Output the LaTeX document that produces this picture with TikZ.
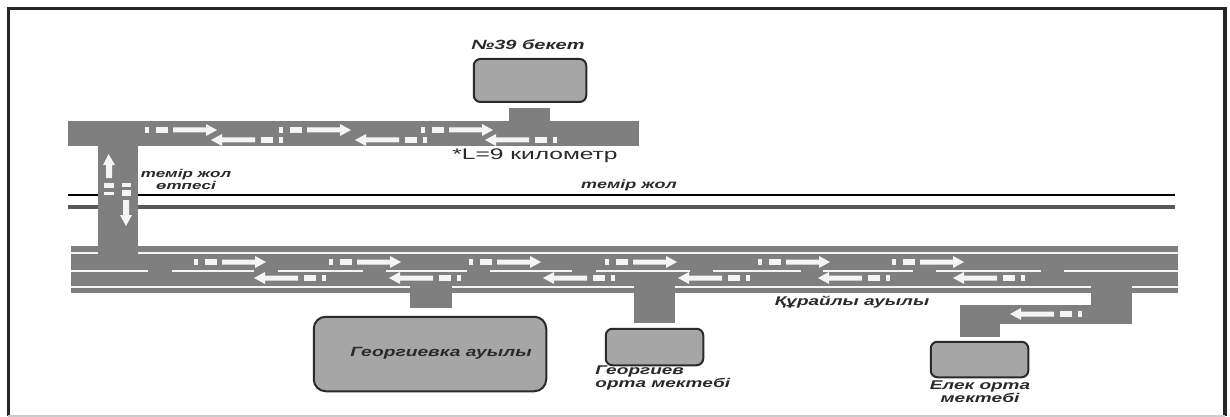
\documentclass[tikz,border=0pt]{standalone}
\usepackage{fontspec}
\setmainfont{Liberation Sans}
\definecolor{roadgray}{HTML}{7F7F7F}
\definecolor{boxgray}{HTML}{A6A6A6}
\definecolor{inkdark}{HTML}{2A2A2A}
\definecolor{markwhite}{HTML}{F4F4F4}
\tikzset{
  road/.style={fill=roadgray,draw=none},
  laneline/.style={draw=markwhite,line width=1.5},
  place/.style={draw=inkdark,line width=1.5,fill=boxgray,rounded corners=5,minimum width=#1*0.75,inner sep=0pt},
  lab/.style={text=inkdark,font=\bfseries\itshape\fontsize{#1}{9.5}\selectfont,transform shape,align=center,inner sep=0pt},
  paint/.style={fill=markwhite,draw=none}
}
% right-going marking: #1 = x of the first dot, #2 = y centre
\newcommand{\markR}[2]{%
  \fill[paint] (#1,#2-3) rectangle ++(4,6);
  \fill[paint] (#1+11,#2-3) rectangle ++(12,6);
  \fill[paint] (#1+28,#2-2.5) -- ++(33,0) -- ++(0,-3.5) -- (#1+72,#2) -- (#1+61,#2+6) -- ++(0,-3.5) -- (#1+28,#2+2.5) -- cycle;}
% left-going marking: #1 = x of the tip, #2 = y centre
\newcommand{\markL}[2]{%
  \fill[paint] (#1+68,#2-3) rectangle ++(4,6);
  \fill[paint] (#1+50,#2-3) rectangle ++(12,6);
  \fill[paint] (#1+44,#2-2.5) -- ++(-33,0) -- ++(0,-3.5) -- (#1,#2) -- (#1+11,#2+6) -- ++(0,-3.5) -- (#1+44,#2+2.5) -- cycle;}
\begin{document}
\begin{tikzpicture}[x=0.75pt,y=-0.75pt]
\useasboundingbox (0,0) rectangle (1230,417);
\fill[white] (0,0) rectangle (1230,417);
% frame
\draw[draw=black!85,line width=2.4] (8.5,416) -- (8.5,8.5) -- (1225,8.5) -- (1225,416);
\draw[draw=black!20,line width=0.8] (8,416) -- (1225,416);
% railway
\draw[black,line width=1.7] (68,195) -- (1175,195);
\draw[black!65,line width=2.6] (68,207) -- (1175,207);
% roads
\fill[road] (68,121) rectangle (639,146);
\fill[road] (509,108) rectangle (550,121);
\fill[road] (97.5,146) rectangle (138,250);
\fill[road] (71,246) rectangle (1178,293);
\fill[road] (410,285) rectangle (452,308);
\fill[road] (634,285) rectangle (675,323);
\fill[road] (1091,285) rectangle (1132,324);
\fill[road] (960,305) rectangle (1132,324);
\fill[road] (960,305) rectangle (1000,337);
% lane lines of the main road
\draw[laneline] (71,253) -- (97.5,253);
\draw[laneline] (138,253) -- (1178,253);
\foreach \a/\b in {71/148,172/254,278/363,386/467,490/572,596/690,713/801,823/913,936/1041,1064/1178}
  \draw[laneline] (\a,271) -- (\b,271);
\foreach \a/\b in {71/410,452/634,675/1091,1132/1178}
  \draw[laneline,line width=1.8] (\a,287) -- (\b,287);
% markings, upper road
\markR{145}{130}\markR{279}{130}\markR{421}{130}
\markL{211}{140}\markL{355}{140}\markL{485}{140}
% markings, main road
\foreach \p in {194,329,469,605,758,892} {\markR{\p}{262}}
\foreach \p in {254,389,543,678,818,953} {\markL{\p}{278}}
% marking, branch
\markL{1010}{314}
% markings, crossing road
\fill[paint] (106,178) -- ++(0,-13) -- ++(-3,0) -- (108.5,154) -- (115,165) -- ++(-3,0) -- (112,178) -- cycle;
\fill[paint] (104,183) rectangle (114,188);
\fill[paint] (104,192) rectangle (114,195);
\fill[paint] (122,183) rectangle (131,186.5);
\fill[paint] (122,190) rectangle (131,196);
\fill[paint] (123,200) -- ++(0,15) -- ++(-3,0) -- (126,226) -- (132,215) -- ++(-3,0) -- (129,200) -- cycle;
% places
\node[place=112.5,minimum height=43*0.75] (station) at (530,80.5) {};
\node[place=232.5,minimum height=74.5*0.75,rounded corners=9] (village) at (430,354) {};
\node[place=97.5,minimum height=36.5*0.75] (gschool) at (654.5,347) {};
\node[place=97.5,minimum height=35.5*0.75] (eschool) at (979.5,359.5) {};
% labels
\node[lab=10,xscale=1.5] (tstation) at (528,45) {№39 бекет};
\node[text=inkdark,font=\fontsize{11.5}{11.5}\selectfont,transform shape,xscale=1.6,inner sep=0pt] (tlength) at (535,156) {*L=9 километр};
\node[lab=8.5,xscale=1.5] (tcross) at (186,179.5) {темір жол\\өтпесі};
\node[lab=9,xscale=1.5] (trail) at (629,185) {темір жол};
\node[lab=10,xscale=1.44] (tvillage) at (441,353) {Георгиевка ауылы};
\node[lab=9.5,xscale=1.5,align=left,anchor=west] (tgschool) at (595,378) {Георгиев\\орта мектебі};
\node[lab=9.5,xscale=1.5] (tkur) at (852,302) {Құрайлы ауылы};
\node[lab=9.5,xscale=1.5] (teschool) at (980,391.5) {Елек орта\\мектебі};
\end{tikzpicture}
\end{document}
